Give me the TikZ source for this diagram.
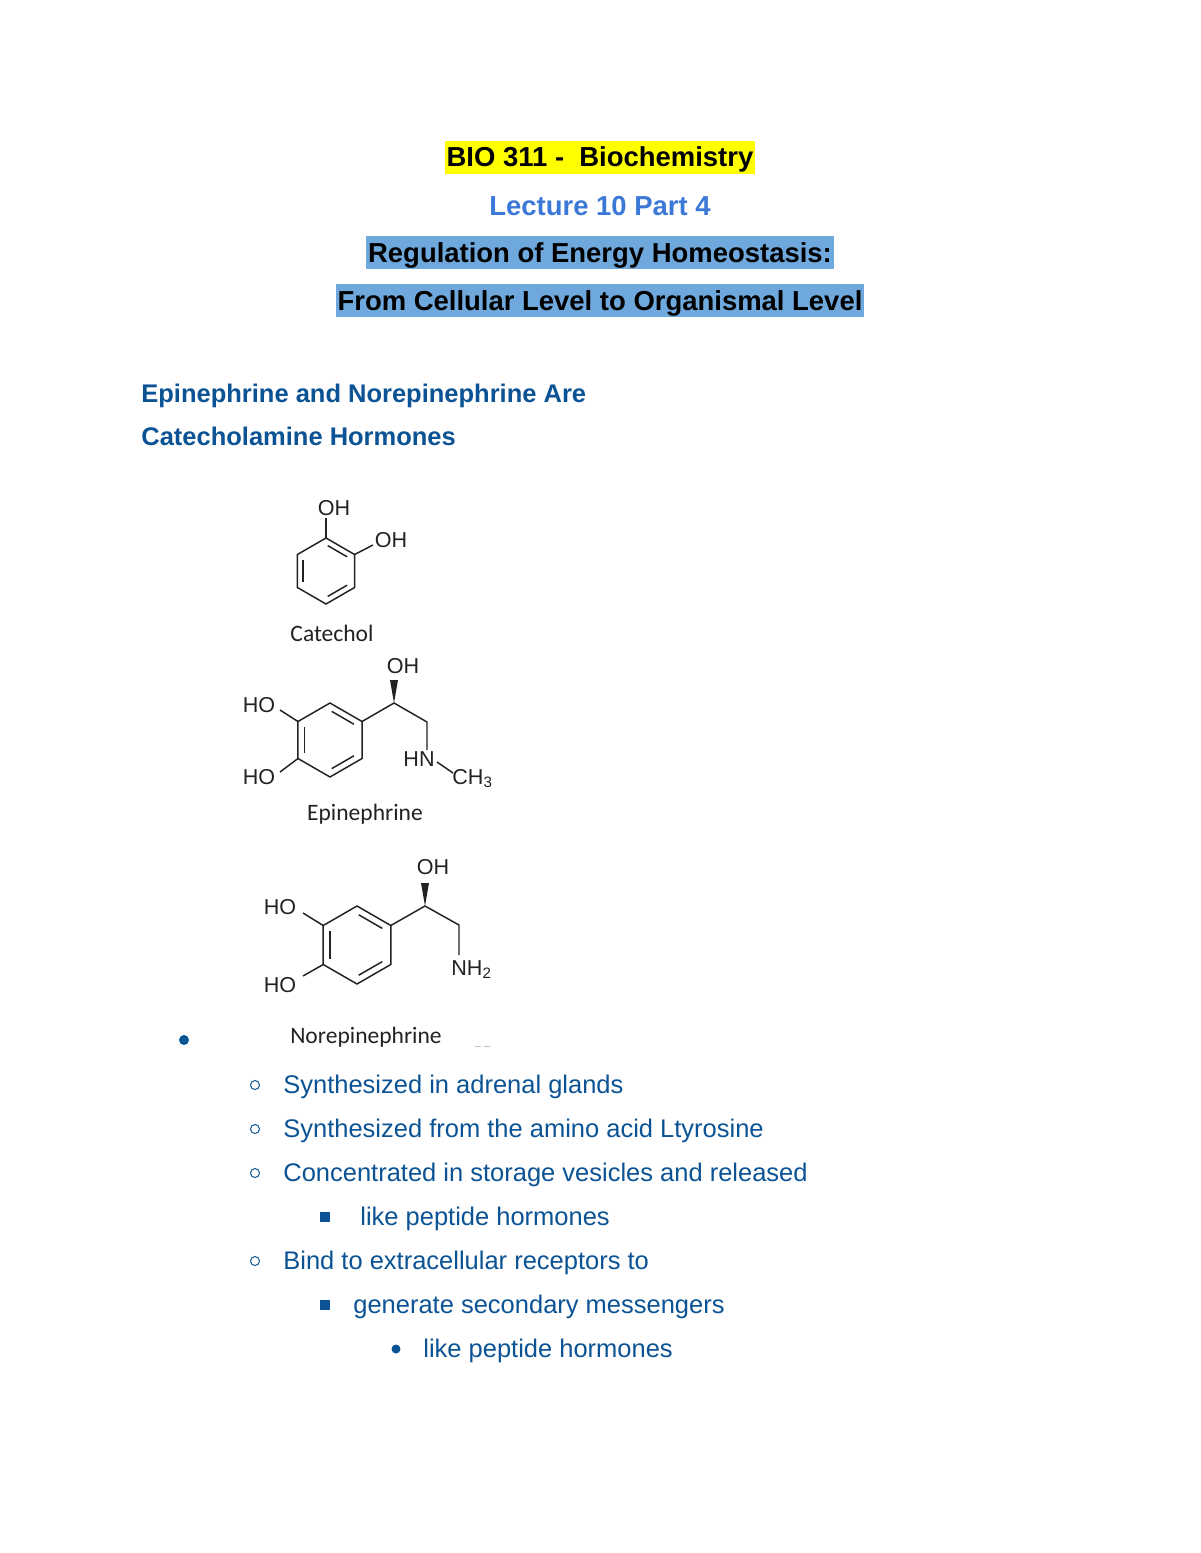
\documentclass[tikz,border=0pt]{standalone}
\usepackage{fontspec}
\setmainfont{Liberation Sans}
\newfontfamily\calibri{Carlito}
\usepackage{tikz}
\usetikzlibrary{calc}
\definecolor{hlyellow}{HTML}{FFFF00}
\definecolor{hlblue}{HTML}{6FA8DC}
\definecolor{lecblue}{HTML}{3C78D8}
\definecolor{darkblue}{HTML}{0B5394}
\definecolor{bondcol}{HTML}{222222}
\tikzset{
  titletext/.style={anchor=base,inner sep=0pt,font=\fontsize{14}{16}\selectfont\bfseries},
  hlbox/.style={fill=#1,inner xsep=1pt,inner ysep=0pt,text height=13.3pt,text depth=3.6pt},
  headtext/.style={anchor=base west,inner sep=0pt,text=darkblue,font=\fontsize{13}{15}\selectfont\bfseries},
  itemtext/.style={anchor=base west,inner sep=0pt,text=darkblue,font=\fontsize{13}{15}\selectfont},
  atom/.style={inner sep=0pt,text=bondcol,font=\fontsize{11}{13}\selectfont},
  chemname/.style={inner sep=0pt,text=bondcol,font=\calibri\fontsize{12}{14}\selectfont},
  bond/.style={draw=bondcol,line width=0.75pt},
}
% ring: prefix, centre x, centre y, radius
\newcommand{\benzring}[4]{%
  \coordinate (#1c) at (#2,#3);
  \foreach \vi/\ang in {1/90,2/30,3/-30,4/-90,5/-150,6/150}
    \coordinate (#1\vi) at ({#2+#4*cos(\ang)},{#3-#4*sin(\ang)});
  \draw[bond] (#11)--(#12)--(#13)--(#14)--(#15)--(#16)--cycle;
  \foreach \vi/\vj in {1/2,3/4,5/6}
    \draw[bond,shorten <=1pt,shorten >=1pt] ($(#1\vi)!0.2!(#1c)$) -- ($(#1\vj)!0.2!(#1c)$);
}
\begin{document}
\begin{tikzpicture}[x=0.51pt,y=-0.51pt]
\useasboundingbox (0,0) rectangle (1200,1553);
\fill[white] (0,0) rectangle (1200,1553);

% titles
\node[titletext,hlbox=hlyellow] (bio) at (600,167) {BIO 311 -\ \ Biochemistry};
\node[titletext,text=lecblue] (lect) at (600,215) {Lecture 10 Part 4};
\node[titletext,hlbox=hlblue] (reg) at (600,262) {Regulation of Energy Homeostasis:};
\node[titletext,hlbox=hlblue] (cell) at (600,310) {From Cellular Level to Organismal Level};

\node[headtext] (head1) at (141,402) {Epinephrine and Norepinephrine Are};
\node[headtext] (head2) at (141,445) {Catecholamine Hormones};

% catechol
\benzring{cat}{326}{571}{33}
\node[atom] (catOHa) at (334,508) {OH};
\node[atom] (catOHb) at (391,540) {OH};
\coordinate (catE1) at (326,518);
\coordinate (catE2) at (373,545);
\draw[bond] (cat1) -- (catE1);
\draw[bond] (cat2) -- (catE2);
\node[chemname] (catname) at (332,633) {Catechol};

% epinephrine
\benzring{epi}{330}{740}{37}
\node[atom] (epiHOa) at (259,705) {HO};
\node[atom] (epiHOb) at (259,777) {HO};
\coordinate (epiE1) at (280,710);
\coordinate (epiE2) at (280,772);
\coordinate (epiC1) at (394,703);
\coordinate (epiC2) at (427,722);
\coordinate (epiW) at (394,680);
\coordinate (epiN) at (427,750);
\coordinate (epiNa) at (437,762);
\coordinate (epiNb) at (453,773);
\draw[bond] (epi6) -- (epiE1);
\draw[bond] (epi5) -- (epiE2);
\draw[bond] (epi2) -- (epiC1) -- (epiC2) -- (epiN);
\draw[bond] (epiNa) -- (epiNb);
\fill[bondcol] (epiC1) -- ($(epiW)+(-4,0)$) -- ($(epiW)+(4,0)$) -- cycle;
\node[atom] (epiOH) at (403,666) {OH};
\node[atom] (epiHN) at (419,759) {HN};
\node[atom,anchor=base west] (epiCH) at (452,784) {CH\textsubscript{3}};
\node[chemname] (epiname) at (365,814) {Epinephrine};

% norepinephrine
\benzring{nor}{357}{945}{39}
\node[atom] (norHOa) at (280,907) {HO};
\node[atom] (norHOb) at (280,985) {HO};
\coordinate (norE1) at (303,913);
\coordinate (norE2) at (303,976);
\coordinate (norC1) at (425,906);
\coordinate (norC2) at (459,925);
\coordinate (norW) at (425,883);
\coordinate (norN) at (459,955);
\draw[bond] (nor6) -- (norE1);
\draw[bond] (nor5) -- (norE2);
\draw[bond] (nor2) -- (norC1) -- (norC2) -- (norN);
\fill[bondcol] (norC1) -- ($(norW)+(-4,0)$) -- ($(norW)+(4,0)$) -- cycle;
\node[atom] (norOH) at (433,867) {OH};
\node[atom,anchor=base west] (norNH) at (451,975) {NH\textsubscript{2}};
\node[chemname] (norname) at (366,1037) {Norepinephrine};
\fill[darkblue] (184,1040) circle [radius=5];
\draw[gray!50,line width=0.4pt] (475,1046) -- (481,1046) (484,1046) -- (490,1046);

% bullets
\foreach \yb in {1085,1129,1173,1261}
  \draw[darkblue,line width=0.5pt] (255,\yb) circle [radius=4.5];
\foreach \yb in {1217,1305}
  \fill[darkblue] (320,\yb-5) rectangle (330,\yb+5);
\fill[darkblue] (396,1349) circle [radius=4.5];
\node[itemtext] (it1) at (283,1093) {Synthesized in adrenal glands};
\node[itemtext] (it2) at (283,1137) {Synthesized from the amino acid Ltyrosine};
\node[itemtext] (it3) at (283,1181) {Concentrated in storage vesicles and released};
\node[itemtext] (it4) at (360,1225) {like peptide hormones};
\node[itemtext] (it5) at (283,1269) {Bind to extracellular receptors to};
\node[itemtext] (it6) at (353,1313) {generate secondary messengers};
\node[itemtext] (it7) at (423,1357) {like peptide hormones};
\end{tikzpicture}
\end{document}
